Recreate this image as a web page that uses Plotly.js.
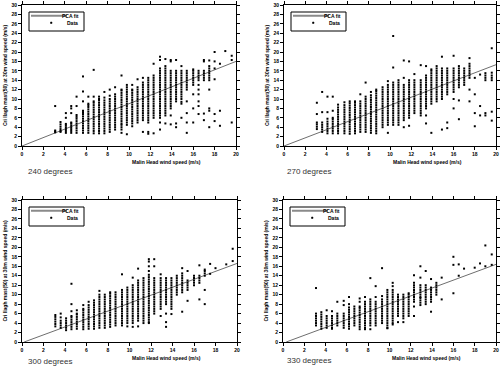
<!DOCTYPE html>
<html><head><meta charset="utf-8">
<script src="https://cdn.plot.ly/plotly-3.0.1.min.js"></script>
<style>html,body{margin:0;padding:0;background:#fff}#c{width:500px;height:367px}</style>
</head><body><div id="c"></div>
<script>
const panelNames = ["240 degrees", "270 degrees", "300 degrees", "330 degrees"];
const xTitle = "Malin Head wind speed (m/s)";
const yTitle = "Cri llagh mast(50) at 30m wind speed (m/s)";
const legendNames = ["PCA fit", "Data"];

const cols240 = [
[3.1,[2.9,3.1,3.3,8.5]],
[3.6,[3.0,3.2,3.6,4.1,4.6,5.1]],
[4.1,[2.8,3.2,3.6,4.0,4.4,4.7,6.0,7.0]],
[4.6,[2.8,3.2,3.6,4.0,4.4,4.8,5.0,7.0,8.0,8.5]],
[5.1,[2.8,3.3,3.8,4.3,4.8,5.3,5.8,6.2,6.6,8.5,10.5]],
[5.7,[2.8,3.3,3.8,4.3,4.8,5.3,5.8,6.3,6.8,7.2,7.5,9.5,11.6,14.8]],
[6.2,[2.8,3.3,3.8,4.3,4.8,5.3,5.8,6.3,6.8,7.3,7.8,8.3,8.7,9.0,10.5]],
[6.7,[2.7,3.2,3.7,4.2,4.7,5.2,5.7,6.2,6.7,7.2,7.7,8.2,8.7,9.2,9.5,10.5,16.2]],
[7.2,[2.7,3.2,3.7,4.2,4.7,5.2,5.7,6.2,6.7,7.2,7.7,8.2,8.7,9.2,9.7,10.0,10.5]],
[7.7,[2.7,3.2,3.7,4.2,4.7,5.2,5.7,6.2,6.7,7.2,7.7,8.2,8.7,9.2,9.7,10.3,11.5]],
[8.2,[3.0,3.5,4.0,4.5,5.0,5.5,6.0,6.5,7.0,7.5,8.0,8.5,9.0,9.5,10.0,10.7,12.0]],
[8.7,[3.5,4.0,4.5,5.0,5.5,6.0,6.5,7.0,7.5,8.0,8.5,9.0,9.5,10.0,10.5,11.0,12.5]],
[9.3,[2.8,3.5,4.0,4.5,4.8,5.3,5.8,6.3,6.8,7.3,7.8,8.3,8.8,9.3,9.8,10.3,10.8,11.3,11.8,12.0,15.0]],
[9.8,[2.5,4.5,5.0,5.5,6.0,6.5,7.0,7.5,8.0,8.5,9.0,9.5,10.0,10.5,11.0,11.5,12.0,12.5,13.0]],
[10.3,[4.2,4.8,5.3,5.8,6.3,6.8,7.3,7.8,8.3,8.8,9.3,9.8,10.3,10.8,11.3,11.8,12.0,13.0]],
[10.8,[5.0,5.5,6.0,6.5,7.0,7.5,8.0,8.5,9.0,9.5,10.0,10.5,11.0,11.5,12.0,12.5,14.2]],
[11.3,[3.0,5.5,6.0,6.5,7.0,7.5,8.0,8.5,9.0,9.5,10.0,10.5,11.0,11.5,12.0,12.5,13.0,13.5,14.5]],
[11.8,[2.6,3.0,5.0,5.5,6.0,6.5,7.0,7.5,8.0,8.5,9.0,9.5,10.0,10.5,11.0,11.5,12.0,12.5,13.0,13.5,14.0,14.5]],
[12.3,[2.7,6.0,6.5,7.0,7.5,8.0,8.5,9.0,9.5,10.0,10.5,11.0,11.5,12.0,12.5,13.0,13.5,14.0,14.5,15.0,17.5]],
[12.9,[3.5,5.0,6.0,6.5,7.0,7.5,8.0,8.5,9.0,9.5,10.0,10.5,11.0,11.5,12.0,12.5,13.0,13.5,14.0,14.5,15.0,15.5,16.0,16.5,18.3,19.0]],
[13.4,[4.8,6.5,7.0,7.5,8.0,8.5,9.0,9.5,10.0,10.5,11.0,11.5,12.0,12.5,13.0,13.5,14.0,14.5,15.0,15.5,16.0,16.5,17.0,18.5]],
[13.9,[4.6,6.5,8.0,8.5,9.0,9.5,10.0,10.5,11.0,11.5,12.0,12.5,13.0,13.5,14.0,14.5,15.0,15.5,16.0,18.0,18.3]],
[14.4,[4.0,4.8,9.5,10.0,10.5,11.0,11.5,12.0,12.5,13.0,13.5,14.0,14.5,15.0,15.5,16.0,18.3]],
[14.9,[6.0,9.0,9.4,10.0,10.5,11.0,11.5,12.0,12.5,13.0,13.5,14.0,14.5,15.0,15.5,16.0,17.0]],
[15.4,[2.8,5.0,7.0,9.5,12.0,12.5,13.0,13.5,14.0,14.5,15.0,15.5,16.0]],
[16.0,[5.0,8.0,11.0,13.0,13.5,14.0,14.5,15.0,15.5,16.0,16.3]],
[16.5,[6.8,8.5,9.5,11.0,12.0,13.0,14.0,14.5,15.0,15.5,16.0]],
[17.0,[5.5,6.9,14.0,14.5,15.0,15.5,16.0,18.0,18.3]],
[17.5,[4.0,7.5,8.0,12.0,14.0,14.5,15.0,15.5,16.0,16.5,17.0,18.2]],
[18.0,[5.3,6.8,14.2,16.5,18.0,20.0]],
[18.5,[4.3,7.5,17.5]],
[19.0,[20.2]],
[19.6,[5.0,18.3,19.2]]
];

const cols270 = [
[3.1,[3.6,4.1,4.6,5.0,6.8,9.2]],
[3.6,[3.0,3.5,4.0,4.5,5.0,7.2,11.5]],
[4.1,[2.7,3.2,3.7,4.2,4.7,5.2,5.8,7.2,10.5]],
[4.6,[2.7,3.2,3.7,4.2,4.7,5.2,5.7,6.0,7.5,10.5]],
[5.1,[2.7,3.2,3.7,4.2,4.7,5.2,5.7,6.2,6.7,7.2,7.7,8.2,8.8]],
[5.7,[2.7,3.2,3.7,4.2,4.7,5.2,5.7,6.2,6.7,7.2,7.7,8.2,8.7,9.3]],
[6.2,[2.6,3.1,3.6,4.1,4.6,5.1,5.6,6.1,6.6,7.1,7.6,8.1,8.6,9.1,9.5]],
[6.7,[2.7,3.2,3.7,4.2,4.7,5.2,5.7,6.2,6.7,7.2,7.7,8.2,8.7,9.2,9.5]],
[7.2,[3.0,3.5,4.0,4.5,5.0,5.5,6.0,6.5,7.0,7.5,8.0,8.5,9.0,9.5,11.0]],
[7.7,[3.0,3.5,4.0,4.5,5.0,5.5,6.0,6.5,7.0,7.5,8.0,8.5,9.0,9.5,10.0,10.5,13.5]],
[8.2,[2.8,3.3,3.8,4.3,4.8,5.3,5.8,6.3,6.8,7.3,7.8,8.3,8.8,9.3,9.8,10.3,10.8,11.5]],
[8.7,[2.7,3.2,3.7,4.2,4.7,5.2,5.7,6.2,6.7,7.2,7.7,8.2,8.7,9.2,9.7,10.2,10.7,11.2,11.7,12.0]],
[9.3,[4.0,4.5,5.0,5.5,6.0,6.5,7.0,7.5,8.0,8.5,9.0,9.5,10.0,10.5,11.0,11.5,12.0,12.5]],
[9.8,[2.8,4.5,5.0,5.5,6.0,6.5,7.0,7.5,8.0,8.5,9.0,9.5,10.0,10.5,11.0,11.5,12.0,12.5,13.0,13.8]],
[10.3,[4.5,5.0,5.5,6.0,6.5,7.0,7.5,8.0,8.5,9.0,9.5,10.0,10.5,11.0,11.5,12.0,12.5,13.0,13.5,16.7,23.4]],
[10.8,[4.5,5.0,5.5,6.0,6.5,7.0,7.5,8.0,8.5,9.0,9.5,10.0,10.5,11.0,11.5,12.0,12.5,13.0,13.5,14.0]],
[11.3,[4.0,5.5,6.0,6.5,7.0,7.5,8.0,8.5,9.0,9.5,10.0,10.5,11.0,11.5,12.0,12.5,13.0,14.5,18.2]],
[11.8,[4.3,6.0,6.5,7.0,7.5,8.0,8.5,9.0,9.5,10.0,10.5,11.0,11.5,12.0,12.5,13.0,13.5,14.0,18.0]],
[12.3,[7.0,7.5,8.0,8.5,9.0,9.5,10.0,10.5,11.0,11.5,12.0,12.5,13.0,13.5,14.0,15.3]],
[12.9,[6.5,7.0,7.5,8.0,8.5,9.0,9.5,10.0,10.5,11.0,11.5,12.0,12.5,13.0,13.5,14.0,17.2]],
[13.4,[4.8,6.5,8.0,8.5,9.0,9.5,10.0,10.5,11.0,11.5,12.0,12.5,13.0,13.5,14.0,14.5,15.0,17.0]],
[13.9,[2.8,9.0,9.5,10.0,10.5,11.0,11.5,12.0,12.5,13.0,13.5,14.0,14.5,15.0,15.5,16.0,16.3]],
[14.4,[9.5,10.0,10.5,11.0,11.5,12.0,12.5,13.0,13.5,14.0,14.5,15.0,15.5,16.0,16.5,17.0]],
[14.9,[3.5,10.0,10.5,11.0,11.5,12.0,12.5,13.0,13.5,14.0,14.5,15.0,15.5,16.0,16.5,19.0]],
[15.4,[3.8,5.0,11.0,11.5,12.0,12.5,13.0,13.5,14.0,14.5,15.0,15.5,16.0,16.5]],
[16.0,[8.0,10.0,11.5,12.0,12.5,13.0,13.5,14.0,14.5,15.0,15.5,16.0,16.5,19.2]],
[16.5,[5.7,9.7,12.5,13.0,13.5,14.0,14.5,15.0,15.5,16.0,16.5,17.0]],
[17.0,[13.0,13.5,14.0,14.5,15.0,15.5,16.0,16.5]],
[17.5,[9.5,12.0,14.5,15.0,15.5,16.0,16.5,17.0,17.5,18.7]],
[18.0,[4.2,7.0,11.0,14.5]],
[18.5,[6.5,8.5,15.2]],
[19.0,[6.5,7.0,14.0,14.5,15.0,15.5]],
[19.6,[5.4,7.3,14.0,14.5,15.0,15.6,20.8]]
];

const cols300 = [
[3.1,[3.3,3.8,4.3,4.8,5.3,5.7]],
[3.6,[3.0,3.5,4.0,4.5,5.2,6.0]],
[4.1,[2.5,3.0,3.5,4.0,4.5,5.0]],
[4.6,[2.7,3.2,3.7,4.2,4.7,5.2,5.5,6.5,8.0,12.3]],
[5.1,[2.8,3.3,3.8,4.3,4.8,5.3,5.8,6.0,6.7]],
[5.7,[2.7,3.2,3.7,4.2,4.7,5.2,5.7,6.2,6.7,7.0,7.8]],
[6.2,[2.8,3.3,3.8,4.3,4.8,5.3,5.8,6.3,6.8,7.3,7.8,8.5]],
[6.7,[2.8,3.3,3.8,4.3,4.8,5.3,5.8,6.3,6.8,7.3,7.8,8.3,8.8]],
[7.2,[3.0,3.5,4.0,4.5,5.0,5.5,6.0,6.5,7.0,7.5,8.0,8.5,9.0,9.5,10.0,10.8]],
[7.7,[3.0,3.5,4.0,4.5,5.0,5.5,6.0,6.5,7.0,7.5,8.0,8.5,9.0,9.5,10.0]],
[8.2,[3.2,3.7,4.2,4.7,5.2,5.7,6.2,6.7,7.2,7.7,8.2,8.7,9.2,9.7,10.2,10.5]],
[8.7,[3.5,4.0,4.5,5.0,5.5,6.0,6.5,7.0,7.5,8.0,8.5,9.0,9.5,10.0,10.5]],
[9.3,[3.5,4.0,4.5,5.0,5.5,6.0,6.5,7.0,7.5,8.0,8.5,9.0,9.5,10.0,10.5,11.0,14.3]],
[9.8,[3.3,4.0,4.5,5.0,5.5,6.0,6.5,7.0,7.5,8.0,8.5,9.0,9.5,10.0,10.5,11.0,11.5]],
[10.3,[3.2,4.0,4.5,5.0,5.5,6.0,6.5,7.0,7.5,8.0,8.5,9.0,9.5,10.0,10.5,11.0,11.5,12.0,13.6]],
[10.8,[3.3,4.5,5.0,5.5,6.0,6.5,7.0,7.5,8.0,8.5,9.0,9.5,10.0,10.5,11.0,11.5,12.0,12.5,13.0,15.5]],
[11.3,[4.0,4.5,5.0,5.5,6.0,6.5,7.0,7.5,8.0,8.5,9.0,9.5,10.0,10.5,11.0,11.5,12.0,12.5,13.0,13.5]],
[11.8,[4.0,4.2,4.7,5.2,5.7,6.2,6.7,7.2,7.7,8.2,8.7,9.2,9.7,10.2,10.7,11.2,11.7,12.2,12.7,13.2,13.7,14.2,15.0,16.0,17.0,17.5]],
[12.3,[6.0,6.5,7.0,7.5,8.0,8.5,9.0,9.5,10.0,10.5,11.0,11.5,12.0,12.5,13.0,13.5,16.0,17.5]],
[12.9,[5.5,7.0,7.5,8.0,8.5,9.0,9.5,10.0,10.5,11.0,11.5,12.0,12.5,13.0,13.5,14.3]],
[13.4,[3.2,4.2,6.0,8.0,8.5,9.0,9.5,10.0,10.5,11.0,11.5,12.0,12.5,13.0,13.5]],
[13.9,[5.9,7.0,7.5,8.0,8.5,9.0,9.5,10.0,10.5,11.0,11.5,12.0,12.5,13.0,13.5]],
[14.4,[10.0,10.5,11.0,11.5,12.0,12.5,13.0,13.5,14.0]],
[14.9,[6.4,10.5,11.0,11.5,12.0,12.5,13.0,13.5,14.0,14.5,15.6]],
[15.4,[8.7,11.0,11.5,12.0,12.5,13.0,15.0]],
[16.0,[12.0,12.5,13.0,13.5,14.0]],
[16.5,[9.0,12.5,13.0,13.5,14.0,16.2]],
[17.0,[8.0,11.0,14.0,14.5,15.0,15.3]],
[17.5,[14.4,16.5]],
[18.0,[15.6]],
[19.0,[16.4]],
[19.6,[17.1,19.7]]
];

const cols330 = [
[3.1,[3.5,4.0,4.5,5.0,5.5,6.0,11.4]],
[3.6,[2.8,3.3,3.8,4.3,4.8,5.3,5.8,6.3]],
[4.1,[3.0,3.5,4.0,4.5,5.0,5.5,6.7]],
[4.6,[2.8,3.0,3.5,4.0,4.5,5.0,5.5,6.5]],
[5.1,[3.5,4.0,4.5,5.0,5.5,6.0,8.5]],
[5.7,[3.0,3.5,4.0,4.5,5.0,5.5,6.0,7.8,8.7]],
[6.2,[2.8,3.3,3.8,4.3,4.8,5.3,5.8,6.3,6.8,7.3,8.0,9.5]],
[6.7,[3.5,4.0,4.5,5.0,5.5,6.0,6.5,7.0,7.5]],
[7.2,[2.7,3.2,3.7,4.2,4.7,5.2,5.7,6.2,6.7,7.2,7.5,8.5,9.2]],
[7.7,[2.7,3.0,3.5,4.0,4.5,5.0,5.5,6.0,6.5,7.0,7.5,8.0,8.5,9.5]],
[8.2,[2.7,3.5,4.0,4.5,5.0,5.5,6.0,6.5,7.0,7.5,8.0,8.5,9.0,13.5]],
[8.7,[3.5,4.0,4.5,5.0,5.5,6.0,6.5,7.0,7.5,8.0,8.5,9.5,11.8]],
[9.3,[4.0,4.5,5.0,5.5,6.0,6.5,7.0,7.5,8.0,8.5,9.0,9.7,15.6]],
[9.8,[2.9,3.0,3.5,4.0,4.5,5.0,5.5,6.0,6.5,7.0,7.5,8.0,8.5,9.0,9.5,10.0,10.5,11.0]],
[10.3,[3.7,4.0,4.5,5.0,5.5,6.0,6.5,7.0,7.5,8.0,8.5,9.0,9.5,10.0,10.5,11.0,11.8,12.5]],
[10.8,[4.2,5.5,6.0,6.5,7.0,7.5,8.0,8.5,9.0,9.5,10.0]],
[11.3,[4.2,5.0,5.5,6.0,6.5,7.0,7.5,8.0,8.5,9.0,9.5,10.0]],
[11.8,[5.5,6.0,6.5,7.0,7.5,8.0,8.5,9.0,9.5,10.0,10.3]],
[12.3,[5.5,7.5,8.5,9.0,9.5,10.0,10.5,11.0,11.5,12.0,12.5,14.1]],
[12.9,[7.8,8.3,8.8,9.3,9.5,10.0,10.5,11.0,11.5,12.0,13.6,16.0]],
[13.4,[8.0,8.5,9.0,9.5,10.0,10.5,11.0,11.5,12.0,15.0]],
[13.9,[6.4,8.5,9.0,9.5,10.0,10.5,11.0,11.5,13.3]],
[14.4,[10.0,10.5,11.0,11.5,12.0,12.5]],
[14.9,[9.0,13.6]],
[16.0,[10.3,16.3,18.0]],
[16.5,[14.0,16.4]],
[17.0,[15.5]],
[18.0,[15.7]],
[18.5,[16.6]],
[19.0,[16.0,20.4]],
[19.6,[16.3,18.5]]
];

const fitX240 = [0, 20],   fitY240 = [0, 18.0];
const fitX270 = [0, 20],   fitY270 = [0, 17.3];
const fitX300 = [0.2, 20], fitY300 = [0, 16.6];
const fitX330 = [0.3, 20], fitY330 = [0, 16.4];

const xTicks = [0,2,4,6,8,10,12,14,16,18,20];
const yTicks = [0,2,4,6,8,10,12,14,16,18,20,22,24,26,28,30];

// layout geometry (pixels)
const W = 500, H = 367;
const boxes = [
  {l:22, r:236, t:5,   b:146},
  {l:284, r:496, t:5,  b:146},
  {l:22, r:237, t:200, b:342},
  {l:283, r:496, t:200, b:342}
];
const labelPos = [[26,171],[285,171],[26,361],[285,360]];

const allCols = [cols240, cols270, cols300, cols330];
const fits = [[fitX240,fitY240],[fitX270,fitY270],[fitX300,fitY300],[fitX330,fitY330]];

const px = x => x / W, py = y => 1 - y / H;
const traces = [];
const layout = {
  width: W, height: H, margin:{l:0,r:0,t:0,b:0},
  paper_bgcolor:'#fff', plot_bgcolor:'#fff', showlegend:false,
  font:{family:'Liberation Sans, Arial, sans-serif', color:'#000'},
  annotations:[], shapes:[]
};
const tf = {size:5, family:'Liberation Sans, Arial, sans-serif', color:'#000', weight:'bold'};

allCols.forEach((cols, i) => {
  const n = i === 0 ? '' : String(i + 1);
  const xs = [], ys = [];
  cols.forEach(c => c[1].forEach(v => { xs.push(c[0]); ys.push(v); }));
  traces.push({x: fits[i][0], y: fits[i][1], xaxis:'x'+n, yaxis:'y'+n, mode:'lines',
    line:{color:'#6e6e6e', width:1}, name:legendNames[0], hoverinfo:'skip'});
  traces.push({x: xs, y: ys, xaxis:'x'+n, yaxis:'y'+n, mode:'markers',
    marker:{symbol:'square', size:2, color:'#000'}, name:legendNames[1]});
  const b = boxes[i];
  layout['xaxis'+n] = {domain:[px(b.l), px(b.r)], anchor:'y'+n, range:[0,20],
    tickvals:xTicks, ticks:'outside', ticklen:3, tickcolor:'#000', showline:true, linecolor:'#000',
    linewidth:1, mirror:'ticks', showgrid:false, zeroline:false, tickfont:tf};
  layout['yaxis'+n] = {domain:[py(b.b), py(b.t)], anchor:'x'+n, range:[0,30],
    tickvals:yTicks, ticks:'outside', ticklen:3, tickcolor:'#000', showline:true, linecolor:'#000',
    linewidth:1, mirror:'ticks', showgrid:false, zeroline:false, tickfont:tf,
    title:{text:yTitle, font:{size:5, weight:'bold', color:'#000'}, standoff:3}};
  // x axis title (offset to the right as in the reference)
  layout.annotations.push({text:xTitle, xref:'paper', yref:'paper',
    x:px((b.l + b.r) / 2 + 37), y:py(b.b + 16), xanchor:'center', yanchor:'middle',
    showarrow:false, font:{size:5, weight:'bold', color:'#000'}});
  // panel label
  layout.annotations.push({text:panelNames[i], xref:'paper', yref:'paper',
    x:px(labelPos[i][0]), y:py(labelPos[i][1]), xanchor:'left', yanchor:'middle',
    showarrow:false, font:{size:8, color:'#333'}});
  // legend box
  const L = b.l, T = b.t;
  layout.shapes.push({type:'rect', xref:'paper', yref:'paper', x0:px(L+7), x1:px(L+62),
    y0:py(T+26), y1:py(T+7), line:{color:'#000', width:1}, fillcolor:'#fff', layer:'above'});
  layout.shapes.push({type:'line', xref:'paper', yref:'paper', x0:px(L+9), x1:px(L+45),
    y0:py(T+10.7), y1:py(T+10.7), line:{color:'#8a8a8a', width:2}, layer:'above'});
  layout.shapes.push({type:'rect', xref:'paper', yref:'paper', x0:px(L+28.5), x1:px(L+30),
    y0:py(T+18.5), y1:py(T+17), line:{color:'#000', width:0.5}, fillcolor:'#000', layer:'above'});
  layout.annotations.push({text:legendNames[0], xref:'paper', yref:'paper', x:px(L+59), y:py(T+10.7),
    xanchor:'right', yanchor:'middle', showarrow:false, font:{size:5, weight:'bold'}});
  layout.annotations.push({text:legendNames[1], xref:'paper', yref:'paper', x:px(L+58), y:py(T+17.7),
    xanchor:'right', yanchor:'middle', showarrow:false, font:{size:5, weight:'bold'}});
});

Plotly.newPlot('c', traces, layout, {staticPlot:true, displayModeBar:false});
</script></body></html>
